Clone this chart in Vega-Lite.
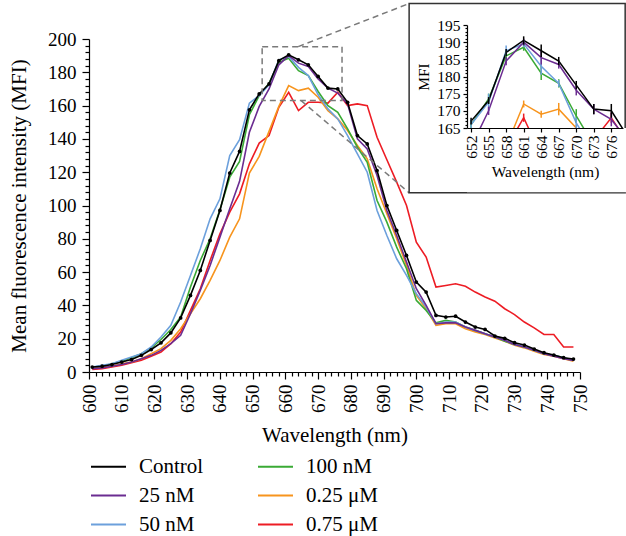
{
  "$schema": "https://vega.github.io/schema/vega-lite/v6.json",
  "width": 491,
  "height": 333,
  "autosize": {"type": "none"},
  "padding": {"left": 89, "top": 39, "right": 46, "bottom": 164},
  "background": "white",
  "config": {
    "view": {"stroke": null},
    "font": "Liberation Serif",
    "axis": {"grid": false, "domainColor": "black", "tickColor": "black", "labelColor": "black", "titleColor": "black", "labelFont": "Liberation Serif", "titleFont": "Liberation Serif", "titleFontWeight": "normal", "domainWidth": 1.2, "tickWidth": 1.2},
    "legend": {"labelFont": "Liberation Serif", "labelColor": "black"}
  },
  "datasets": {
    "spectra": [
      {"s":"0.75 μM","wl":601,"v":1.5},{"s":"0.75 μM","wl":604,"v":2},{"s":"0.75 μM","wl":607,"v":3},{"s":"0.75 μM","wl":610,"v":4},{"s":"0.75 μM","wl":613,"v":5.5},{"s":"0.75 μM","wl":616,"v":7},{"s":"0.75 μM","wl":619,"v":9.5},{"s":"0.75 μM","wl":622,"v":12},{"s":"0.75 μM","wl":625,"v":17},{"s":"0.75 μM","wl":628,"v":24},{"s":"0.75 μM","wl":631,"v":37},{"s":"0.75 μM","wl":634,"v":50},{"s":"0.75 μM","wl":637,"v":67},{"s":"0.75 μM","wl":640,"v":83},{"s":"0.75 μM","wl":643,"v":96},{"s":"0.75 μM","wl":646,"v":107},{"s":"0.75 μM","wl":649,"v":125},{"s":"0.75 μM","wl":652,"v":137.5,"e":1},{"s":"0.75 μM","wl":655,"v":142,"e":1},{"s":"0.75 μM","wl":658,"v":159,"e":1},{"s":"0.75 μM","wl":661,"v":168,"e":1.2},{"s":"0.75 μM","wl":664,"v":157,"e":1},{"s":"0.75 μM","wl":667,"v":162,"e":1},{"s":"0.75 μM","wl":670,"v":162,"e":1},{"s":"0.75 μM","wl":673,"v":161.5,"e":1},{"s":"0.75 μM","wl":676,"v":168,"e":1.5},{"s":"0.75 μM","wl":679,"v":160,"e":1},{"s":"0.75 μM","wl":682,"v":161},{"s":"0.75 μM","wl":685,"v":160},{"s":"0.75 μM","wl":688,"v":141},{"s":"0.75 μM","wl":691,"v":127.5},{"s":"0.75 μM","wl":694,"v":114},{"s":"0.75 μM","wl":697,"v":100},{"s":"0.75 μM","wl":700,"v":78},{"s":"0.75 μM","wl":703,"v":69},{"s":"0.75 μM","wl":706,"v":51},{"s":"0.75 μM","wl":709,"v":52},{"s":"0.75 μM","wl":712,"v":53},{"s":"0.75 μM","wl":715,"v":51.5},{"s":"0.75 μM","wl":718,"v":48},{"s":"0.75 μM","wl":721,"v":45},{"s":"0.75 μM","wl":724,"v":42.5},{"s":"0.75 μM","wl":727,"v":38},{"s":"0.75 μM","wl":730,"v":34.5},{"s":"0.75 μM","wl":733,"v":30},{"s":"0.75 μM","wl":736,"v":26.5},{"s":"0.75 μM","wl":739,"v":22.5},{"s":"0.75 μM","wl":742,"v":22.5},{"s":"0.75 μM","wl":745,"v":15},{"s":"0.75 μM","wl":748,"v":15},
      {"s":"0.25 μM","wl":601,"v":2.5},{"s":"0.25 μM","wl":604,"v":3},{"s":"0.25 μM","wl":607,"v":3.5},{"s":"0.25 μM","wl":610,"v":5},{"s":"0.25 μM","wl":613,"v":6},{"s":"0.25 μM","wl":616,"v":8},{"s":"0.25 μM","wl":619,"v":11},{"s":"0.25 μM","wl":622,"v":14},{"s":"0.25 μM","wl":625,"v":19},{"s":"0.25 μM","wl":628,"v":26},{"s":"0.25 μM","wl":631,"v":35},{"s":"0.25 μM","wl":634,"v":44},{"s":"0.25 μM","wl":637,"v":55},{"s":"0.25 μM","wl":640,"v":67},{"s":"0.25 μM","wl":643,"v":81},{"s":"0.25 μM","wl":646,"v":92},{"s":"0.25 μM","wl":649,"v":119.5},{"s":"0.25 μM","wl":652,"v":129.5,"e":1},{"s":"0.25 μM","wl":655,"v":144.5,"e":1},{"s":"0.25 μM","wl":658,"v":159.5,"e":1},{"s":"0.25 μM","wl":661,"v":172,"e":1},{"s":"0.25 μM","wl":664,"v":169,"e":1},{"s":"0.25 μM","wl":667,"v":170.5,"e":1.8},{"s":"0.25 μM","wl":670,"v":165,"e":1},{"s":"0.25 μM","wl":673,"v":157,"e":1},{"s":"0.25 μM","wl":676,"v":152,"e":1},{"s":"0.25 μM","wl":679,"v":145,"e":1},{"s":"0.25 μM","wl":682,"v":136},{"s":"0.25 μM","wl":685,"v":128},{"s":"0.25 μM","wl":688,"v":110},{"s":"0.25 μM","wl":691,"v":95},{"s":"0.25 μM","wl":694,"v":80},{"s":"0.25 μM","wl":697,"v":64},{"s":"0.25 μM","wl":700,"v":46},{"s":"0.25 μM","wl":703,"v":38},{"s":"0.25 μM","wl":706,"v":28},{"s":"0.25 μM","wl":709,"v":29},{"s":"0.25 μM","wl":712,"v":29},{"s":"0.25 μM","wl":715,"v":26},{"s":"0.25 μM","wl":718,"v":24},{"s":"0.25 μM","wl":721,"v":22.5},{"s":"0.25 μM","wl":724,"v":20.5},{"s":"0.25 μM","wl":727,"v":18.5},{"s":"0.25 μM","wl":730,"v":16},{"s":"0.25 μM","wl":733,"v":14.5},{"s":"0.25 μM","wl":736,"v":12.5},{"s":"0.25 μM","wl":739,"v":10.5},{"s":"0.25 μM","wl":742,"v":9.5},{"s":"0.25 μM","wl":745,"v":8},{"s":"0.25 μM","wl":748,"v":6.5},
      {"s":"100 nM","wl":601,"v":3},{"s":"100 nM","wl":604,"v":3.5},{"s":"100 nM","wl":607,"v":5},{"s":"100 nM","wl":610,"v":6.5},{"s":"100 nM","wl":613,"v":8.5},{"s":"100 nM","wl":616,"v":11},{"s":"100 nM","wl":619,"v":14.5},{"s":"100 nM","wl":622,"v":19.5},{"s":"100 nM","wl":625,"v":25.5},{"s":"100 nM","wl":628,"v":33},{"s":"100 nM","wl":631,"v":51},{"s":"100 nM","wl":634,"v":67},{"s":"100 nM","wl":637,"v":80},{"s":"100 nM","wl":640,"v":97.5},{"s":"100 nM","wl":643,"v":117},{"s":"100 nM","wl":646,"v":126.5},{"s":"100 nM","wl":649,"v":154.5},{"s":"100 nM","wl":652,"v":166,"e":1.2},{"s":"100 nM","wl":655,"v":173.5,"e":1.5},{"s":"100 nM","wl":658,"v":186,"e":1.5},{"s":"100 nM","wl":661,"v":188.5,"e":1},{"s":"100 nM","wl":664,"v":181,"e":2},{"s":"100 nM","wl":667,"v":178,"e":1.2},{"s":"100 nM","wl":670,"v":168.5,"e":2},{"s":"100 nM","wl":673,"v":160,"e":1},{"s":"100 nM","wl":676,"v":156,"e":1},{"s":"100 nM","wl":679,"v":146,"e":1},{"s":"100 nM","wl":682,"v":135},{"s":"100 nM","wl":685,"v":126},{"s":"100 nM","wl":688,"v":103},{"s":"100 nM","wl":691,"v":90},{"s":"100 nM","wl":694,"v":75},{"s":"100 nM","wl":697,"v":62},{"s":"100 nM","wl":700,"v":43},{"s":"100 nM","wl":703,"v":37},{"s":"100 nM","wl":706,"v":29.5},{"s":"100 nM","wl":709,"v":31},{"s":"100 nM","wl":712,"v":30},{"s":"100 nM","wl":715,"v":27},{"s":"100 nM","wl":718,"v":25},{"s":"100 nM","wl":721,"v":23},{"s":"100 nM","wl":724,"v":21},{"s":"100 nM","wl":727,"v":18.5},{"s":"100 nM","wl":730,"v":16.5},{"s":"100 nM","wl":733,"v":15},{"s":"100 nM","wl":736,"v":13},{"s":"100 nM","wl":739,"v":11},{"s":"100 nM","wl":742,"v":10},{"s":"100 nM","wl":745,"v":8.5},{"s":"100 nM","wl":748,"v":7},
      {"s":"50 nM","wl":601,"v":3},{"s":"50 nM","wl":604,"v":4},{"s":"50 nM","wl":607,"v":5},{"s":"50 nM","wl":610,"v":7},{"s":"50 nM","wl":613,"v":9},{"s":"50 nM","wl":616,"v":11},{"s":"50 nM","wl":619,"v":15},{"s":"50 nM","wl":622,"v":21},{"s":"50 nM","wl":625,"v":28},{"s":"50 nM","wl":628,"v":42},{"s":"50 nM","wl":631,"v":58},{"s":"50 nM","wl":634,"v":74},{"s":"50 nM","wl":637,"v":92},{"s":"50 nM","wl":640,"v":104},{"s":"50 nM","wl":643,"v":130},{"s":"50 nM","wl":646,"v":139.5},{"s":"50 nM","wl":649,"v":161.5},{"s":"50 nM","wl":652,"v":166,"e":1.5},{"s":"50 nM","wl":655,"v":172.5,"e":2.5},{"s":"50 nM","wl":658,"v":187.5,"e":1.5},{"s":"50 nM","wl":661,"v":189.5,"e":1},{"s":"50 nM","wl":664,"v":183,"e":2.5},{"s":"50 nM","wl":667,"v":178,"e":1},{"s":"50 nM","wl":670,"v":166.5,"e":1.5},{"s":"50 nM","wl":673,"v":158,"e":1},{"s":"50 nM","wl":676,"v":152,"e":1},{"s":"50 nM","wl":679,"v":142,"e":1},{"s":"50 nM","wl":682,"v":131},{"s":"50 nM","wl":685,"v":120},{"s":"50 nM","wl":688,"v":97},{"s":"50 nM","wl":691,"v":82},{"s":"50 nM","wl":694,"v":68},{"s":"50 nM","wl":697,"v":58},{"s":"50 nM","wl":700,"v":47},{"s":"50 nM","wl":703,"v":39},{"s":"50 nM","wl":706,"v":29},{"s":"50 nM","wl":709,"v":30},{"s":"50 nM","wl":712,"v":30},{"s":"50 nM","wl":715,"v":27},{"s":"50 nM","wl":718,"v":25},{"s":"50 nM","wl":721,"v":23},{"s":"50 nM","wl":724,"v":21},{"s":"50 nM","wl":727,"v":19},{"s":"50 nM","wl":730,"v":16.5},{"s":"50 nM","wl":733,"v":15},{"s":"50 nM","wl":736,"v":13},{"s":"50 nM","wl":739,"v":11},{"s":"50 nM","wl":742,"v":10},{"s":"50 nM","wl":745,"v":8.5},{"s":"50 nM","wl":748,"v":7},
      {"s":"25 nM","wl":601,"v":2},{"s":"25 nM","wl":604,"v":2.5},{"s":"25 nM","wl":607,"v":3.5},{"s":"25 nM","wl":610,"v":4.5},{"s":"25 nM","wl":613,"v":6},{"s":"25 nM","wl":616,"v":8},{"s":"25 nM","wl":619,"v":10},{"s":"25 nM","wl":622,"v":13},{"s":"25 nM","wl":625,"v":17},{"s":"25 nM","wl":628,"v":22},{"s":"25 nM","wl":631,"v":35},{"s":"25 nM","wl":634,"v":49},{"s":"25 nM","wl":637,"v":64},{"s":"25 nM","wl":640,"v":81},{"s":"25 nM","wl":643,"v":98},{"s":"25 nM","wl":646,"v":114.5},{"s":"25 nM","wl":649,"v":144},{"s":"25 nM","wl":652,"v":159.5,"e":1},{"s":"25 nM","wl":655,"v":170,"e":1.2},{"s":"25 nM","wl":658,"v":184.5,"e":1.2},{"s":"25 nM","wl":661,"v":190,"e":1},{"s":"25 nM","wl":664,"v":185.5,"e":2},{"s":"25 nM","wl":667,"v":183.5,"e":1.2},{"s":"25 nM","wl":670,"v":176,"e":1.5},{"s":"25 nM","wl":673,"v":170.5,"e":1.5},{"s":"25 nM","wl":676,"v":167.5,"e":2},{"s":"25 nM","wl":679,"v":161,"e":1},{"s":"25 nM","wl":682,"v":140},{"s":"25 nM","wl":685,"v":134},{"s":"25 nM","wl":688,"v":118},{"s":"25 nM","wl":691,"v":97},{"s":"25 nM","wl":694,"v":82},{"s":"25 nM","wl":697,"v":66},{"s":"25 nM","wl":700,"v":50},{"s":"25 nM","wl":703,"v":40},{"s":"25 nM","wl":706,"v":29},{"s":"25 nM","wl":709,"v":29.5},{"s":"25 nM","wl":712,"v":29.5},{"s":"25 nM","wl":715,"v":27},{"s":"25 nM","wl":718,"v":25},{"s":"25 nM","wl":721,"v":23},{"s":"25 nM","wl":724,"v":21},{"s":"25 nM","wl":727,"v":19},{"s":"25 nM","wl":730,"v":16.5},{"s":"25 nM","wl":733,"v":15},{"s":"25 nM","wl":736,"v":13},{"s":"25 nM","wl":739,"v":11},{"s":"25 nM","wl":742,"v":9.5},{"s":"25 nM","wl":745,"v":8},{"s":"25 nM","wl":748,"v":7},
      {"s":"Control","wl":601,"v":3},{"s":"Control","wl":604,"v":3.5},{"s":"Control","wl":607,"v":4.5},{"s":"Control","wl":610,"v":6},{"s":"Control","wl":613,"v":7.5},{"s":"Control","wl":616,"v":10},{"s":"Control","wl":619,"v":13.5},{"s":"Control","wl":622,"v":17.5},{"s":"Control","wl":625,"v":23.5},{"s":"Control","wl":628,"v":32.5},{"s":"Control","wl":631,"v":46},{"s":"Control","wl":634,"v":61},{"s":"Control","wl":637,"v":79},{"s":"Control","wl":640,"v":97},{"s":"Control","wl":643,"v":119.5},{"s":"Control","wl":646,"v":132.5},{"s":"Control","wl":649,"v":157.5},{"s":"Control","wl":652,"v":167,"e":1},{"s":"Control","wl":655,"v":173,"e":1},{"s":"Control","wl":658,"v":187,"e":1},{"s":"Control","wl":661,"v":190.5,"e":1.2},{"s":"Control","wl":664,"v":187.5,"e":1.8},{"s":"Control","wl":667,"v":184.5,"e":1.2},{"s":"Control","wl":670,"v":177.5,"e":1.2},{"s":"Control","wl":673,"v":170.5,"e":1.5},{"s":"Control","wl":676,"v":170,"e":2},{"s":"Control","wl":679,"v":162,"e":1},{"s":"Control","wl":682,"v":142},{"s":"Control","wl":685,"v":137},{"s":"Control","wl":688,"v":121},{"s":"Control","wl":691,"v":100},{"s":"Control","wl":694,"v":85},{"s":"Control","wl":697,"v":70},{"s":"Control","wl":700,"v":54},{"s":"Control","wl":703,"v":48},{"s":"Control","wl":706,"v":34},{"s":"Control","wl":709,"v":33},{"s":"Control","wl":712,"v":33.5},{"s":"Control","wl":715,"v":30},{"s":"Control","wl":718,"v":27},{"s":"Control","wl":721,"v":25.6},{"s":"Control","wl":724,"v":21.6},{"s":"Control","wl":727,"v":20.2},{"s":"Control","wl":730,"v":17.6},{"s":"Control","wl":733,"v":16.2},{"s":"Control","wl":736,"v":13.8},{"s":"Control","wl":739,"v":11.6},{"s":"Control","wl":742,"v":10.2},{"s":"Control","wl":745,"v":8.6},{"s":"Control","wl":748,"v":7.8}
    ]
  },
  "layer": [
    {
      "layer": [
        {
          "data": {"name": "spectra"},
          "mark": {"type": "line", "strokeWidth": 1.6},
          "encoding": {
            "x": {"field": "wl", "type": "quantitative",
              "scale": {"domain": [600, 750], "nice": false, "zero": false},
              "axis": {"orient": "bottom", "values": [600,610,620,630,640,650,660,670,680,690,700,710,720,730,740,750], "labelAngle": -90, "tickSize": 7, "labelFontSize": 19, "labelPadding": 5, "labelFlush": false, "labelOverlap": false, "title": "Wavelength (nm)", "titleFontSize": 21, "titlePadding": 12}},
            "y": {"field": "v", "type": "quantitative",
              "scale": {"domain": [0, 200], "nice": false, "zero": false},
              "axis": {"orient": "left", "values": [0,20,40,60,80,100,120,140,160,180,200], "tickSize": 7, "labelFontSize": 19, "labelPadding": 6, "labelFlush": false, "labelOverlap": false, "title": "Mean fluorescence intensity (MFI)", "titleFontSize": 21, "titlePadding": 18}},
            "color": {"field": "s", "type": "nominal",
              "scale": {"domain": ["Control", "25 nM", "50 nM", "100 nM", "0.25 μM", "0.75 μM"], "range": ["#000000", "#6b2c91", "#6ca0dc", "#3aaa35", "#f7941d", "#ed1c24"]},
              "legend": {"orient": "none", "legendX": 1, "legendY": 409, "columns": 2, "title": null, "symbolType": "stroke", "symbolSize": 1225, "symbolStrokeWidth": 1.8, "labelFontSize": 21, "labelOffset": 12, "columnPadding": 50, "rowPadding": -11}}
          }
        },
        {
          "data": {"name": "spectra"},
          "transform": [{"filter": "datum.s === 'Control'"}],
          "mark": {"type": "circle", "size": 14, "opacity": 1, "color": "black"},
          "encoding": {
            "x": {"field": "wl", "type": "quantitative",
              "axis": {"orient": "bottom", "values": [602,604,606,608,612,614,616,618,622,624,626,628,632,634,636,638,642,644,646,648,652,654,656,658,662,664,666,668,672,674,676,678,682,684,686,688,692,694,696,698,702,704,706,708,712,714,716,718,722,724,726,728,732,734,736,738,742,744,746,748], "labels": false, "domain": false, "tickSize": 4, "title": null}},
            "y": {"field": "v", "type": "quantitative",
              "axis": {"orient": "left", "values": [4,8,12,16,24,28,32,36,44,48,52,56,64,68,72,76,84,88,92,96,104,108,112,116,124,128,132,136,144,148,152,156,164,168,172,176,184,188,192,196], "labels": false, "domain": false, "tickSize": 4, "title": null}}
          }
        },
        {
          "data": {"values": [{"x1": 652.9, "x2": 677.3, "y1": 163, "y2": 195.4}]},
          "mark": {"type": "rect", "fill": null, "stroke": "#7a7a7a", "strokeWidth": 1.5, "strokeDash": [6, 4]},
          "encoding": {
            "x": {"field": "x1", "type": "quantitative", "axis": null},
            "x2": {"field": "x2"},
            "y": {"field": "y1", "type": "quantitative", "axis": null},
            "y2": {"field": "y2"}
          }
        },
        {
          "data": {"values": [{"x1": 663.9, "y1": 195.4, "x2": 697.8, "y2": 221.3}, {"x1": 664.8, "y1": 163, "x2": 697.8, "y2": 107.6}]},
          "mark": {"type": "rule", "stroke": "#7a7a7a", "strokeWidth": 1.5, "strokeDash": [6, 4]},
          "encoding": {
            "x": {"field": "x1", "type": "quantitative", "axis": null},
            "x2": {"field": "x2"},
            "y": {"field": "y1", "type": "quantitative", "axis": null},
            "y2": {"field": "y2"}
          }
        },
        {
          "data": {"values": [{"x1": 697.8, "x2": 763.8, "y1": 107.6, "y2": 221.3}]},
          "mark": {"type": "rect", "fill": "white", "stroke": "#333333", "strokeWidth": 1.5},
          "encoding": {
            "x": {"field": "x1", "type": "quantitative", "axis": null},
            "x2": {"field": "x2"},
            "y": {"field": "y1", "type": "quantitative", "axis": null},
            "y2": {"field": "y2"}
          }
        }
      ],
      "resolve": {"axis": {"x": "independent", "y": "independent"}}
    },
    {
      "layer": [
        {
          "data": {"name": "spectra"},
          "transform": [{"filter": "datum.wl >= 652 && datum.wl <= 679 && datum.v >= 155"}],
          "mark": {"type": "line", "strokeWidth": 1.5},
          "encoding": {
            "x": {"field": "wl", "type": "quantitative",
              "scale": {"domain": [651.3, 678], "range": [378, 534], "nice": false, "zero": false},
              "axis": {"orient": "bottom", "offset": -244, "values": [652,655,658,661,664,667,670,673,676], "labelAngle": -90, "tickSize": 4, "labelFontSize": 15.5, "labelPadding": 3, "labelFlush": false, "labelOverlap": false, "title": "Wavelength (nm)", "titleFontSize": 15.5, "titlePadding": 6, "zindex": 1}},
            "y": {"field": "v", "type": "quantitative",
              "scale": {"domain": [165, 195], "range": [89, -14], "nice": false, "zero": false},
              "axis": {"orient": "left", "offset": -378, "values": [165,170,175,180,185,190,195], "tickSize": 4, "labelFontSize": 15.5, "labelPadding": 3, "labelFlush": false, "labelOverlap": false, "title": "MFI", "titleFontSize": 15.5, "titlePadding": 5, "zindex": 1}},
            "color": {"field": "s", "type": "nominal"}
          }
        },
        {
          "data": {"name": "spectra"},
          "transform": [{"filter": "datum.wl >= 652 && datum.wl <= 679 && datum.v >= 155"}],
          "mark": {"type": "errorbar", "thickness": 1.5},
          "encoding": {
            "x": {"field": "wl", "type": "quantitative", "axis": null},
            "y": {"field": "v", "type": "quantitative", "axis": null},
            "yError": {"field": "e"},
            "color": {"field": "s", "type": "nominal"}
          }
        },
        {
          "data": {"values": [{"x1": 651.3, "x2": 681, "y1": 165, "y2": 146.3}]},
          "mark": {"type": "rect", "fill": "white", "stroke": null},
          "encoding": {
            "x": {"field": "x1", "type": "quantitative", "axis": null},
            "x2": {"field": "x2"},
            "y": {"field": "y1", "type": "quantitative",
              "axis": {"orient": "left", "offset": -378, "values": [166,167,168,169,171,172,173,174,176,177,178,179,181,182,183,184,186,187,188,189,191,192,193,194], "labels": false, "domain": false, "tickSize": 2, "title": null, "zindex": 1}},
            "y2": {"field": "y2"}
          }
        }
      ],
      "resolve": {"axis": {"x": "independent", "y": "independent"}}
    }
  ],
  "resolve": {"scale": {"x": "independent", "y": "independent"}}
}
